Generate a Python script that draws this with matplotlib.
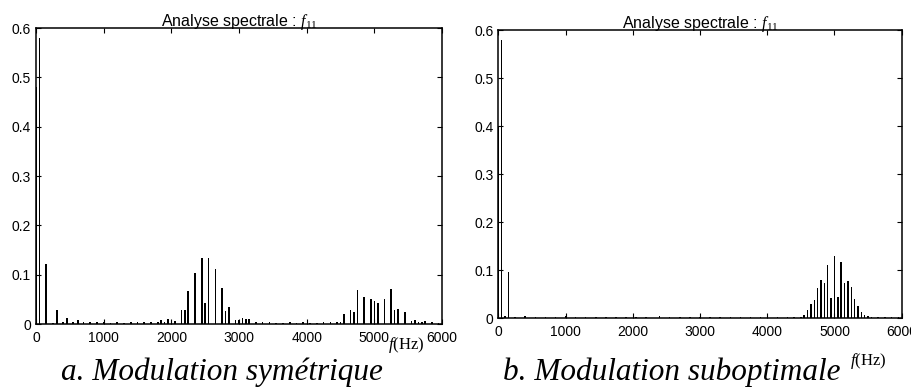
# -*- coding: utf-8 -*-
import matplotlib
matplotlib.use('Agg')
import matplotlib.pyplot as plt

# police type Arial / Times
plt.rcParams['font.family'] = ['Liberation Sans', 'DejaVu Sans']
plt.rcParams['mathtext.fontset'] = 'custom'
plt.rcParams['mathtext.rm'] = 'Liberation Serif'
plt.rcParams['mathtext.it'] = 'Liberation Serif:italic'

# ---- a. modulation symetrique : raies principales (Hz, amplitude)
freq_a = [0, 50, 150, 310, 460, 620, 1850, 1950, 2000, 2050,
          2150, 2200, 2250, 2350, 2450, 2500, 2550, 2650, 2750, 2800, 2850,
          2950, 3000, 3050, 3100, 3150,
          4550, 4650, 4700, 4750, 4850, 4950, 5000, 5050, 5150, 5250, 5300,
          5350, 5450, 5550, 5600, 5750]
amp_a = [0.48, 0.58, 0.121, 0.028, 0.013, 0.008, 0.009, 0.011, 0.008, 0.006,
         0.028, 0.028, 0.067, 0.103, 0.134, 0.042, 0.134, 0.111, 0.074, 0.027, 0.034,
         0.008, 0.008, 0.013, 0.010, 0.010,
         0.021, 0.028, 0.024, 0.069, 0.055, 0.050, 0.046, 0.043, 0.051, 0.072, 0.028,
         0.030, 0.025, 0.007, 0.008, 0.006]

# fond de bruit (a)
noise_freq_a = [250, 400, 550, 700, 800, 900, 1000, 1100, 1200, 1300, 1400, 1500,
                1600, 1700, 1800, 1900, 3250, 3350, 3450, 3550, 3650, 3750, 3850,
                3950, 4050, 4150, 4250, 4350, 4450, 4500, 5650, 5700, 5850, 5950]
noise_amp_a = [0.003, 0.004, 0.004, 0.004, 0.005, 0.004, 0.004, 0.003, 0.004, 0.003,
               0.004, 0.004, 0.005, 0.004, 0.004, 0.005, 0.004, 0.005, 0.004, 0.003,
               0.003, 0.004, 0.003, 0.005, 0.003, 0.003, 0.005, 0.004, 0.005, 0.004,
               0.005, 0.004, 0.004, 0.002]

# ---- b. modulation suboptimale : raies principales
freq_b = [0, 50, 150, 4500, 4550, 4600, 4650, 4700, 4750, 4800, 4850, 4900, 4950,
          5000, 5050, 5100, 5150, 5200, 5250, 5300, 5350, 5400, 5450, 5500, 5550]
amp_b = [0.40, 0.579, 0.096, 0.002, 0.006, 0.017, 0.029, 0.038, 0.062, 0.079, 0.073,
         0.111, 0.043, 0.130, 0.045, 0.117, 0.073, 0.077, 0.066, 0.040, 0.026, 0.014,
         0.007, 0.005, 0.003]

# fond de bruit (b)
noise_freq_b = [100, 250, 400, 550, 700, 850, 1000, 1150, 1300, 1450, 1600, 1750,
                1900, 2050, 2200, 2400, 2550, 2700, 2850, 3000, 3150, 3300, 3450,
                3600, 3750, 3900, 4000, 4150, 4300, 4400, 5650, 5750, 5850, 5950]
noise_amp_b = [0.004, 0.002, 0.005, 0.002, 0.003, 0.002, 0.004, 0.002, 0.002, 0.003,
               0.002, 0.002, 0.003, 0.002, 0.003, 0.004, 0.002, 0.002, 0.003, 0.003,
               0.002, 0.002, 0.003, 0.002, 0.002, 0.003, 0.004, 0.002, 0.003, 0.003,
               0.003, 0.002, 0.002, 0.002]

xticks = [0, 1000, 2000, 3000, 4000, 5000, 6000]
yticks = [0, 0.1, 0.2, 0.3, 0.4, 0.5, 0.6]
titre = 'Analyse spectrale : $f_{11}$'
legendes = ['a. Modulation symétrique', 'b. Modulation suboptimale']


def trace_spectre(ax, f, a, nf, na, largeur):
    # raies du spectre
    ax.bar(nf, na, width=largeur, color='black', linewidth=0)
    ax.bar(f, a, width=largeur, color='black', linewidth=0)
    ax.set_xlim(0, 6000)
    ax.set_ylim(0, 0.6)
    ax.set_xticks(xticks)
    ax.set_yticks(yticks)
    ax.set_yticklabels(['0', '0.1', '0.2', '0.3', '0.4', '0.5', '0.6'])
    ax.tick_params(direction='in', top=True, right=True, length=3.5, width=0.8,
                   labelsize=10)
    ax.tick_params(axis='x', pad=5)
    ax.tick_params(axis='y', pad=3.5)
    for s in ax.spines.values():
        s.set_linewidth(1.1)
    ax.set_title(titre, fontsize=11.5, pad=1.5)


fig = plt.figure(figsize=(9.11, 3.90), dpi=100)
ax1 = fig.add_axes([0.0395, 0.169, 0.4457, 0.759])
ax2 = fig.add_axes([0.547, 0.184, 0.4428, 0.739])

trace_spectre(ax1, freq_a, amp_a, noise_freq_a, noise_amp_a, 24)
trace_spectre(ax2, freq_b, amp_b, noise_freq_b, noise_amp_b, 22)

# etiquettes f(Hz)
fig.text(406 / 911, 1 - 345 / 390, '$f$(Hz)', family='Liberation Serif',
         fontsize=12, ha='center', va='center')
fig.text(868 / 911, 1 - 361 / 390, '$f$(Hz)', family='Liberation Serif',
         fontsize=12, ha='center', va='center')

# legendes des sous-figures
fig.text(222 / 911, 1 - 372 / 390, legendes[0], family='Liberation Serif',
         style='italic', fontsize=22.5, ha='center', va='center')
fig.text(672 / 911, 1 - 372 / 390, legendes[1], family='Liberation Serif',
         style='italic', fontsize=22.5, ha='center', va='center')

fig.savefig('out.png', dpi=100)
